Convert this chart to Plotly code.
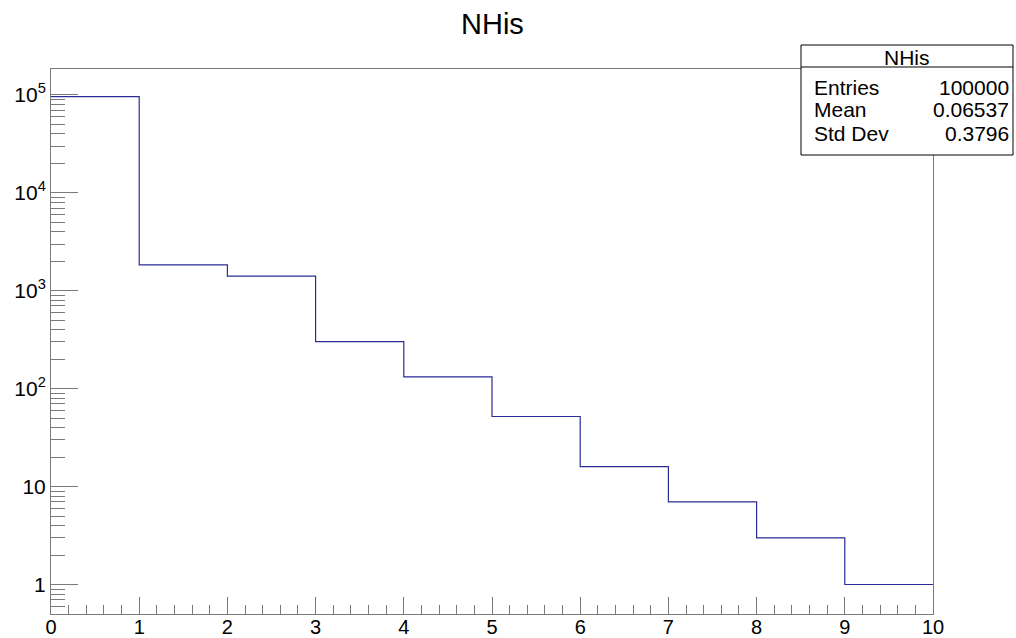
import math
import plotly.graph_objects as go

# Histogram "NHis": 10 unit-width bins on [0, 10]
bin_edges = [0, 1, 2, 3, 4, 5, 6, 7, 8, 9, 10]
bin_counts = [96234, 1840, 1413, 302, 132, 52, 16, 7, 3, 1]

# Statistics box contents
stats_title = "NHis"
stats_labels = ["Entries", "Mean", "Std Dev"]
stats_values = ["100000", "0.06537", "0.3796"]

# Axis tick labelling
y_major = [1, 10, 100, 1000, 10000, 100000]
y_major_text = ["1", "10", "10<sup>2</sup>", "10<sup>3</sup>", "10<sup>4</sup>", "10<sup>5</sup>"]
y_minor = [0.6, 0.7, 0.8, 0.9] + [m * 10 ** d for d in range(0, 5) for m in range(2, 10)]
x_major = list(range(0, 11))

FONT = "Liberation Sans, Arial, Helvetica, sans-serif"
FRAME = "#7a7a7a"
LINE = "#2c2c96"

W, H = 1016, 638
L, R, T, B = 51, 83, 69, 24
plot_w = W - L - R
plot_h = H - T - B


def px_x(x):
    return (x - L) / plot_w


def px_y(y):
    return (H - B - y) / plot_h


fig = go.Figure()
fig.add_trace(
    go.Scatter(
        x=bin_edges,
        y=bin_counts + [bin_counts[-1]],
        mode="lines",
        line=dict(shape="hv", color=LINE, width=1.2),
        hoverinfo="skip",
        showlegend=False,
    )
)

fig.update_layout(
    width=W,
    height=H,
    margin=dict(l=L, r=R, t=T, b=B, pad=0, autoexpand=False),
    paper_bgcolor="white",
    plot_bgcolor="white",
    font=dict(family=FONT, color="black"),
    showlegend=False,
)

fig.update_xaxes(
    range=[0, 10],
    automargin=False,
    tickmode="array",
    tickvals=x_major,
    ticktext=[str(v) for v in x_major],
    ticks="inside",
    ticklen=17,
    tickwidth=1,
    tickcolor=FRAME,
    ticklabelstandoff=-5,
    minor=dict(ticks="inside", ticklen=9, dtick=0.2, tick0=0, tickcolor=FRAME, showgrid=False),
    showgrid=False,
    zeroline=False,
    showline=True,
    linecolor=FRAME,
    linewidth=1,
    mirror=True,
    tickfont=dict(size=20, family=FONT, color="black"),
)

fig.update_yaxes(
    type="log",
    range=[math.log10(0.5), 5.265],
    automargin=False,
    tickmode="array",
    tickvals=y_major,
    ticktext=y_major_text,
    ticks="inside",
    ticklen=27,
    tickwidth=1,
    tickcolor=FRAME,
    minor=dict(ticks="inside", ticklen=14, tickvals=y_minor, tickcolor=FRAME, showgrid=False),
    showgrid=False,
    zeroline=False,
    showline=True,
    linecolor=FRAME,
    linewidth=1,
    mirror=True,
    tickfont=dict(size=21, family=FONT, color="black"),
)

# Title centred over the frame
fig.add_annotation(
    x=0.5, y=px_y(24), xref="paper", yref="paper",
    text="NHis", showarrow=False, xanchor="center", yanchor="middle",
    font=dict(size=29, family=FONT, color="black"),
)

# Statistics box
bx0, bx1, by0, by1, sep = 801, 1013, 45, 155, 67
fig.add_shape(
    type="rect", xref="paper", yref="paper",
    x0=px_x(bx0), x1=px_x(bx1), y0=px_y(by1), y1=px_y(by0),
    line=dict(color="black", width=1), fillcolor="white", layer="above",
)
fig.add_shape(
    type="line", xref="paper", yref="paper",
    x0=px_x(bx0), x1=px_x(bx1), y0=px_y(sep), y1=px_y(sep),
    line=dict(color="black", width=1), layer="above",
)
fig.add_annotation(
    x=px_x((bx0 + bx1) / 2), y=px_y(57), xref="paper", yref="paper",
    text=stats_title, showarrow=False, xanchor="center", yanchor="middle",
    font=dict(size=21, family=FONT, color="black"),
)
row_y = [87, 110, 133]
for lab, val, ry in zip(stats_labels, stats_values, row_y):
    fig.add_annotation(
        x=px_x(812), y=px_y(ry), xref="paper", yref="paper",
        text=lab, showarrow=False, xanchor="left", yanchor="middle",
        font=dict(size=21, family=FONT, color="black"),
    )
    fig.add_annotation(
        x=px_x(1011), y=px_y(ry), xref="paper", yref="paper",
        text=val, showarrow=False, xanchor="right", yanchor="middle",
        font=dict(size=21, family=FONT, color="black"),
    )

fig.write_html("out.html")
